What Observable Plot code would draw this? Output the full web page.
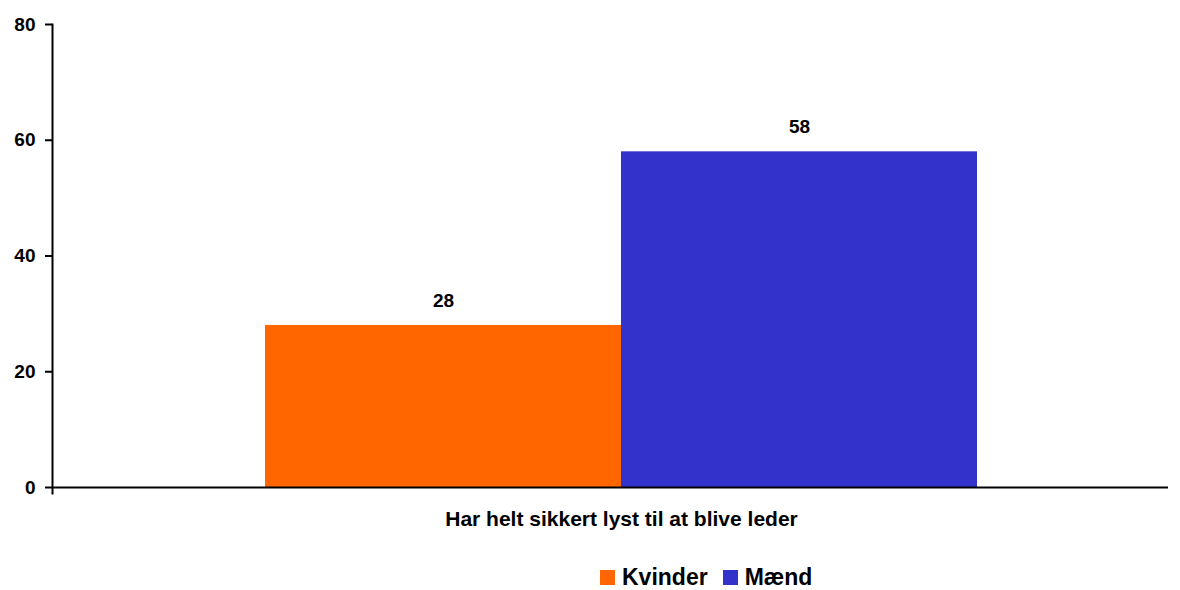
<!DOCTYPE html>
<html><head><meta charset="utf-8">
<script src="https://cdn.jsdelivr.net/npm/d3@7"></script>
<script src="https://cdn.jsdelivr.net/npm/@observablehq/plot@0.6"></script>
<style>
body{margin:0;background:#fff;font-family:"Liberation Sans",Arial,sans-serif;overflow:hidden;}
#chart svg{display:block;}
#legend{display:flex;align-items:center;height:24px;line-height:24px;margin-top:20px;padding-left:600px;font-weight:bold;font-size:23px;color:#000;}
#legend .sw{width:15px;height:15px;display:inline-block;margin-right:7px;}
#legend .it{display:flex;align-items:center;margin-right:15px;}
</style></head>
<body><div id="chart"></div><div id="legend"></div>
<script>
const category = "Har helt sikkert lyst til at blive leder";
const series = ["Kvinder", "Mænd"];
const values = [28, 58];
const colors = ["#FF6600", "#3333CC"];
const yTicks = [0, 20, 40, 60, 80];

const data = series.map((s, i) => ({series: s, value: values[i], category}));
const width = 1180, height = 545;
const xOpts = {type: "band", domain: series, range: [52, 1168], paddingInner: 0, paddingOuter: 0.5674, align: 0.527};
const xs = Plot.scale({x: xOpts});
const half = xs.bandwidth / 2;

const chart = Plot.plot({
  width, height,
  marginLeft: 52, marginRight: 12, marginTop: 24, marginBottom: 58,
  style: {fontFamily: '"Liberation Sans", Arial, sans-serif', background: "#fff"},
  x: {...xOpts, axis: null},
  y: {domain: [0, 80], axis: null},
  color: {domain: series, range: colors},
  marks: [
    Plot.barY(data, {x: "series", y: "value", fill: "series", inset: 0}),
    Plot.text(data, {x: "series", y: "value", text: d => String(d.value), dy: -25, fontWeight: "bold", fontSize: 19, fill: "#000"}),
    Plot.axisY({ticks: yTicks, label: null, tickSize: 7, tickPadding: 10, strokeWidth: 2, fontWeight: "bold", fontSize: 19, tickFormat: d => String(d), color: "#000"}),
    Plot.frame({anchor: "left", strokeWidth: 2, insetBottom: -6, stroke: "#000"}),
    Plot.ruleY([0], {strokeWidth: 2, stroke: "#000"}),
    Plot.text([category], {x: () => series[1], frameAnchor: "bottom", dy: 38, dx: -half, text: d => d, fontWeight: "bold", fontSize: 21, fill: "#000"})
  ]
});
document.getElementById("chart").appendChild(chart);

const lg = document.getElementById("legend");
series.forEach((s, i) => {
  const it = document.createElement("span"); it.className = "it";
  const sw = document.createElement("span"); sw.className = "sw"; sw.style.background = colors[i];
  it.appendChild(sw); it.appendChild(document.createTextNode(s));
  lg.appendChild(it);
});
</script></body></html>
